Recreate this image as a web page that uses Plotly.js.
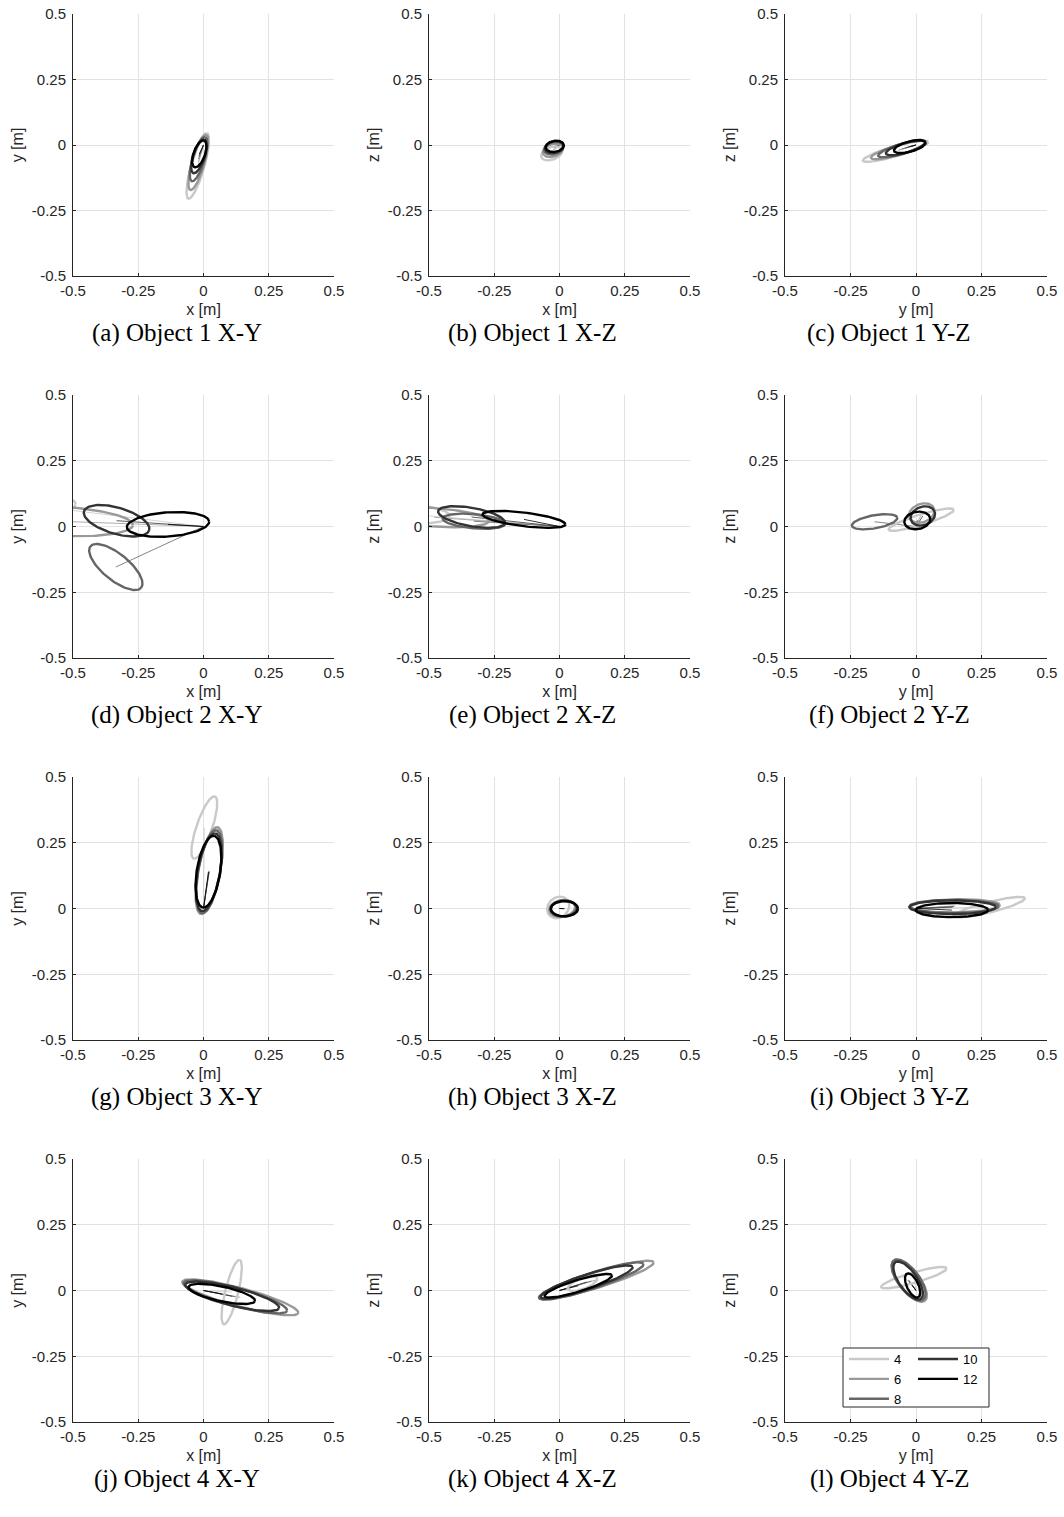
<!DOCTYPE html>
<html>
<head>
<meta charset="utf-8">
<script src="https://cdn.plot.ly/plotly-3.0.1.min.js"></script>
<style>html,body{margin:0;padding:0;background:#fff;}#plot{width:1064px;height:1517px;}</style>
</head>
<body>
<div id="plot"></div>
<script>
// Series names (legend) and panel definitions
const seriesNames = ['4', '6', '8', '10', '12'];
const captions = ['(a) Object 1 X-Y', '(b) Object 1 X-Z', '(c) Object 1 Y-Z',
                  '(d) Object 2 X-Y', '(e) Object 2 X-Z', '(f) Object 2 Y-Z',
                  '(g) Object 3 X-Y', '(h) Object 3 X-Z', '(i) Object 3 Y-Z',
                  '(j) Object 4 X-Y', '(k) Object 4 X-Z', '(l) Object 4 Y-Z'];
const xLabels = ['x [m]', 'x [m]', 'y [m]'];
const yLabels = ['y [m]', 'z [m]', 'z [m]'];
const tickVals = [-0.5, -0.25, 0, 0.25, 0.5];
const tickText = ['-0.5', '-0.25', '0', '0.25', '0.5'];

// Ellipse estimates per panel, one row per series (4,6,8,10,12):
// [centre h, centre v, semi-major, semi-minor, tilt in degrees]
const obj1XY = [[-0.022,-0.080,0.130,0.025,74],[-0.020,-0.066,0.110,0.024,74],[-0.019,-0.054,0.088,0.023,73],[-0.018,-0.043,0.068,0.022,72],[-0.016,-0.034,0.054,0.022,70]];
const obj1XZ = [[-0.030,-0.032,0.042,0.024,20],[-0.025,-0.020,0.040,0.024,18],[-0.022,-0.012,0.038,0.023,15],[-0.020,-0.008,0.036,0.022,12],[-0.018,-0.005,0.035,0.021,10]];
const obj1YZ = [[-0.078,-0.024,0.130,0.019,16],[-0.066,-0.019,0.110,0.019,16],[-0.054,-0.015,0.094,0.019,16],[-0.040,-0.011,0.078,0.019,16],[-0.024,-0.006,0.062,0.020,15]];
const obj2XY = [[-0.700,0.085,0.210,0.050,0],[-0.550,0.020,0.280,0.055,-3],[-0.336,-0.154,0.125,0.050,-39],[-0.333,0.022,0.130,0.050,-16],[-0.136,0.008,0.158,0.046,4]];
const obj2XZ = [[-0.620,0.050,0.200,0.040,-3],[-0.480,0.035,0.210,0.035,-4],[-0.328,0.020,0.120,0.027,-5],[-0.337,0.036,0.130,0.035,-10],[-0.136,0.027,0.160,0.026,-7]];
const obj2YZ = [[0.020,0.026,0.130,0.020,17],[0.022,0.051,0.050,0.035,20],[-0.158,0.018,0.088,0.025,10],[0.026,0.040,0.048,0.035,20],[0.005,0.023,0.050,0.033,10]];
const obj3XY = [[0.003,0.308,0.125,0.030,71],[0.022,0.144,0.168,0.042,79],[0.022,0.140,0.160,0.042,80],[0.020,0.138,0.150,0.043,80],[0.019,0.140,0.138,0.045,81]];
const obj3XZ = [[-0.005,0.004,0.045,0.038,40],[0.010,0.000,0.050,0.032,10],[0.015,0.000,0.050,0.030,5],[0.017,0.000,0.051,0.030,2],[0.019,-0.001,0.052,0.029,0]];
const obj3YZ = [[0.280,0.005,0.140,0.020,14],[0.150,0.010,0.170,0.025,1],[0.145,0.008,0.170,0.025,0],[0.140,0.005,0.165,0.026,0],[0.137,-0.006,0.138,0.027,0]];
const obj4XY = [[0.108,-0.006,0.126,0.025,76],[0.141,-0.026,0.230,0.035,-15],[0.122,-0.024,0.205,0.035,-15],[0.110,-0.022,0.185,0.035,-14],[0.070,-0.013,0.130,0.028,-12]];
const obj4XZ = [[0.088,0.026,0.060,0.020,20],[0.141,0.040,0.230,0.030,17],[0.122,0.036,0.210,0.030,18],[0.104,0.032,0.185,0.028,18],[0.072,0.018,0.135,0.022,17]];
const obj4YZ = [[-0.008,0.049,0.130,0.020,16],[-0.026,0.037,0.097,0.040,-52],[-0.028,0.040,0.093,0.040,-53],[-0.030,0.038,0.085,0.035,-55],[-0.013,0.019,0.050,0.022,-65]];

const panels = [obj1XY, obj1XZ, obj1YZ, obj2XY, obj2XZ, obj2YZ, obj3XY, obj3XZ, obj3YZ, obj4XY, obj4XZ, obj4YZ];

// Styling
const seriesColors = ['#c9c9c9', '#999999', '#666666', '#333333', '#000000'];
const colPx = [[73, 334], [429, 690], [785, 1047]];
const rowPx = [[14, 276], [395, 658], [777, 1040], [1159, 1422]];
const W = 1064, H = 1517;

function ellipsePath(p) {
  const [cx, cy, a, b, deg] = p;
  const t = deg * Math.PI / 180, xs = [], ys = [];
  const n = 120;
  for (let i = 0; i <= n; i++) {
    const u = 2 * Math.PI * i / n;
    const ex = a * Math.cos(u), ey = b * Math.sin(u);
    xs.push(cx + ex * Math.cos(t) - ey * Math.sin(t));
    ys.push(cy + ex * Math.sin(t) + ey * Math.cos(t));
  }
  return [xs, ys];
}

const traces = [];
const layout = {
  width: W, height: H,
  margin: {l: 0, r: 0, t: 0, b: 0},
  paper_bgcolor: '#ffffff', plot_bgcolor: '#ffffff',
  font: {family: 'Liberation Sans, Arial, sans-serif', color: '#262626'},
  showlegend: true,
  legend: {x: 844 / W, y: 1 - 1344 / H, xanchor: 'left', yanchor: 'top', bgcolor: 'rgba(0,0,0,0)',
           font: {size: 13, color: '#000'}, itemwidth: 40, tracegroupgap: 0},
  legend2: {x: 913 / W, y: 1 - 1344 / H, xanchor: 'left', yanchor: 'top', bgcolor: 'rgba(0,0,0,0)',
            font: {size: 13, color: '#000'}, itemwidth: 40, tracegroupgap: 0},
  annotations: [],
  shapes: [{type: 'rect', xref: 'paper', yref: 'paper', x0: 843 / W, x1: 989 / W, y0: 1 - 1407 / H, y1: 1 - 1348 / H,
            line: {color: '#262626', width: 1}, fillcolor: '#ffffff', layer: 'above'}]
};

panels.forEach((panel, k) => {
  const r = Math.floor(k / 3), c = k % 3;
  const idx = k + 1;
  const xa = 'x' + (idx === 1 ? '' : idx), ya = 'y' + (idx === 1 ? '' : idx);
  const xname = 'xaxis' + (idx === 1 ? '' : idx), yname = 'yaxis' + (idx === 1 ? '' : idx);
  // thin lines from origin to each ellipse centre
  panel.forEach((p, s) => {
    traces.push({x: [0, p[0]], y: [0, p[1]], xaxis: xa, yaxis: ya, mode: 'lines',
      line: {color: seriesColors[s], width: 0.8}, showlegend: false, hoverinfo: 'skip'});
  });
  panel.forEach((p, s) => {
    const [xs, ys] = ellipsePath(p);
    traces.push({x: xs, y: ys, xaxis: xa, yaxis: ya, mode: 'lines', name: seriesNames[s],
      legendgroup: 's' + s, legend: s < 3 ? 'legend' : 'legend2',
      showlegend: k === 11, line: {color: seriesColors[s], width: 2.4}, hoverinfo: 'skip'});
  });
  const axCommon = {
    range: [-0.5, 0.5], tickmode: 'array', tickvals: tickVals, ticktext: tickText,
    ticks: 'inside', ticklen: 3, tickcolor: '#262626', tickwidth: 1,
    showline: true, linecolor: '#262626', linewidth: 1, mirror: false,
    showgrid: true, gridcolor: '#e2e2e2', gridwidth: 1, zeroline: false,
    tickfont: {family: 'Liberation Sans, Arial, sans-serif', size: 15, color: '#262626'},
    automargin: false, fixedrange: true
  };
  layout[xname] = Object.assign({}, axCommon, {
    domain: [colPx[c][0] / W, colPx[c][1] / W], anchor: ya, ticklabelstandoff: 1,
    title: {text: xLabels[c], font: {size: 16, color: '#262626'}, standoff: 5}
  });
  layout[yname] = Object.assign({}, axCommon, {
    domain: [1 - rowPx[r][1] / H, 1 - rowPx[r][0] / H], anchor: xa, ticklabelstandoff: 3,
    title: {text: yLabels[c], font: {size: 16, color: '#262626'}, standoff: 4}
  });
  const capX = ((colPx[c][0] + colPx[c][1]) / 2 - 27) / W;
  const capY = 1 - (rowPx[r][1] + 57) / H;
  layout.annotations.push({text: captions[k], xref: 'paper', yref: 'paper', x: capX, y: capY,
    xanchor: 'center', yanchor: 'middle', showarrow: false,
    font: {family: 'Liberation Serif, Times New Roman, serif', size: 25, color: '#000'}});
});

Plotly.newPlot('plot', traces, layout, {staticPlot: true});
</script>
</body>
</html>
